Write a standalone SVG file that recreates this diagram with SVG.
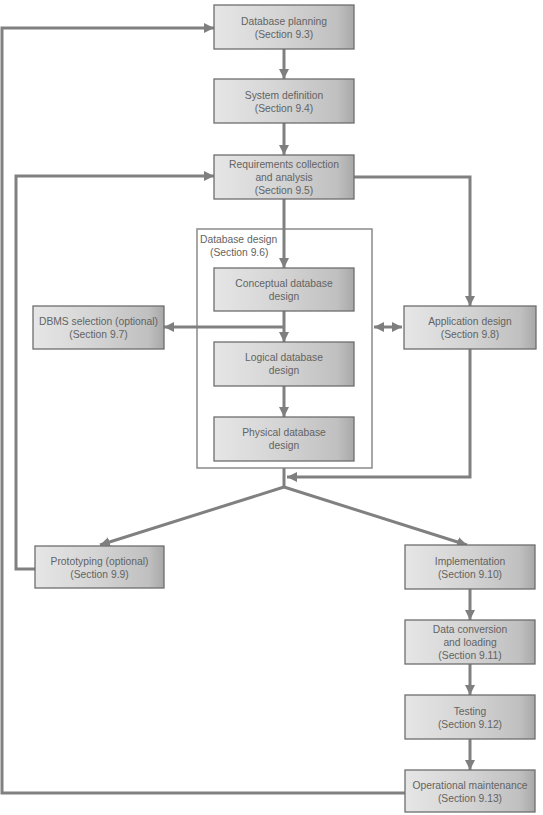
<svg xmlns="http://www.w3.org/2000/svg" width="543" height="815" viewBox="0 0 543 815">
<defs>
<linearGradient id="g" x1="0" y1="0" x2="1" y2="0">
<stop offset="0" stop-color="#e6e6e6"/>
<stop offset="0.5" stop-color="#d3d3d3"/>
<stop offset="0.88" stop-color="#c0c0c0"/>
<stop offset="1" stop-color="#a8a8a8"/>
</linearGradient>
<marker id="ah" markerUnits="userSpaceOnUse" markerWidth="10" markerHeight="10" refX="10" refY="5" orient="auto-start-reverse" viewBox="0 0 10 10">
<path d="M0,0 L10,5 L0,10 z" fill="#7f7f7f"/>
</marker>
<style>
.box{fill:url(#g);stroke:#6e6e6e;stroke-width:1.3}
.t{font-family:"Liberation Sans",Arial,sans-serif;font-size:10.3px;fill:#636363;text-anchor:middle}
.tl{font-family:"Liberation Sans",Arial,sans-serif;font-size:10.3px;fill:#636363}
.c{fill:none;stroke:#808080;stroke-width:3}
.a{marker-end:url(#ah)}
.cont{fill:#fff;stroke:#8a8a8a;stroke-width:1.5}
</style>
</defs>
<rect width="543" height="815" fill="#fff"/>

<g id="container">
<rect class="cont" x="197" y="229" width="175" height="239"/>
<text class="tl" x="200" y="243">Database design</text>
<text class="tl" x="210" y="256">(Section 9.6)</text>
</g>

<g id="connectors">
<path class="c a" d="M284,49 V79"/>
<path class="c a" d="M284,123 V155"/>
<path class="c a" d="M284,199 V268"/>
<path class="c a" d="M284,311 V342"/>
<path class="c a" d="M284,386 V417"/>
<path class="c a" d="M284,327 H164"/>
<path class="c" d="M374,327 H402" style="marker-start:url(#ah);marker-end:url(#ah)"/>
<path class="c a" d="M354,177 H470 V306"/>
<path class="c a" d="M470,349 V477 H287"/>
<path class="c" d="M284,468 V487"/>
<path class="c a" d="M284,487 L100,545"/>
<path class="c a" d="M284,487 L467,545"/>
<path class="c a" d="M470,589 V620"/>
<path class="c a" d="M470,664 V695"/>
<path class="c a" d="M470,739 V770"/>
<path class="c a" d="M405,793 H2 V28 H214"/>
<path class="c a" d="M35,569 H16 V176 H214"/>
</g>

<g id="database-planning">
<rect class="box" x="214" y="5" width="140" height="44"/>
<text class="t" x="284" y="25">Database planning</text>
<text class="t" x="284" y="38">(Section 9.3)</text>
</g>
<g id="system-definition">
<rect class="box" x="214" y="79" width="140" height="44"/>
<text class="t" x="284" y="99">System definition</text>
<text class="t" x="284" y="112">(Section 9.4)</text>
</g>
<g id="requirements">
<rect class="box" x="214" y="155" width="140" height="44"/>
<text class="t" x="284" y="168">Requirements collection</text>
<text class="t" x="284" y="181">and analysis</text>
<text class="t" x="284" y="194">(Section 9.5)</text>
</g>
<g id="conceptual">
<rect class="box" x="214" y="268" width="140" height="43"/>
<text class="t" x="284" y="287">Conceptual database</text>
<text class="t" x="284" y="300">design</text>
</g>
<g id="logical">
<rect class="box" x="214" y="342" width="140" height="44"/>
<text class="t" x="284" y="361">Logical database</text>
<text class="t" x="284" y="374">design</text>
</g>
<g id="physical">
<rect class="box" x="214" y="417" width="140" height="44"/>
<text class="t" x="284" y="436">Physical database</text>
<text class="t" x="284" y="449">design</text>
</g>
<g id="dbms-selection">
<rect class="box" x="33" y="306" width="131" height="43"/>
<text class="t" x="98.5" y="325">DBMS selection (optional)</text>
<text class="t" x="98.5" y="338">(Section 9.7)</text>
</g>
<g id="application-design">
<rect class="box" x="404" y="306" width="132" height="43"/>
<text class="t" x="470" y="325">Application design</text>
<text class="t" x="470" y="338">(Section 9.8)</text>
</g>
<g id="prototyping">
<rect class="box" x="35" y="546" width="129" height="42"/>
<text class="t" x="99.5" y="565">Prototyping (optional)</text>
<text class="t" x="99.5" y="578">(Section 9.9)</text>
</g>
<g id="implementation">
<rect class="box" x="405" y="545" width="130" height="44"/>
<text class="t" x="470" y="565">Implementation</text>
<text class="t" x="470" y="578">(Section 9.10)</text>
</g>
<g id="data-conversion">
<rect class="box" x="405" y="620" width="130" height="44"/>
<text class="t" x="470" y="633">Data conversion</text>
<text class="t" x="470" y="646">and loading</text>
<text class="t" x="470" y="659">(Section 9.11)</text>
</g>
<g id="testing">
<rect class="box" x="405" y="695" width="130" height="44"/>
<text class="t" x="470" y="715">Testing</text>
<text class="t" x="470" y="728">(Section 9.12)</text>
</g>
<g id="operational-maintenance">
<rect class="box" x="405" y="770" width="130" height="42"/>
<text class="t" x="470" y="789">Operational maintenance</text>
<text class="t" x="470" y="802">(Section 9.13)</text>
</g>
</svg>
